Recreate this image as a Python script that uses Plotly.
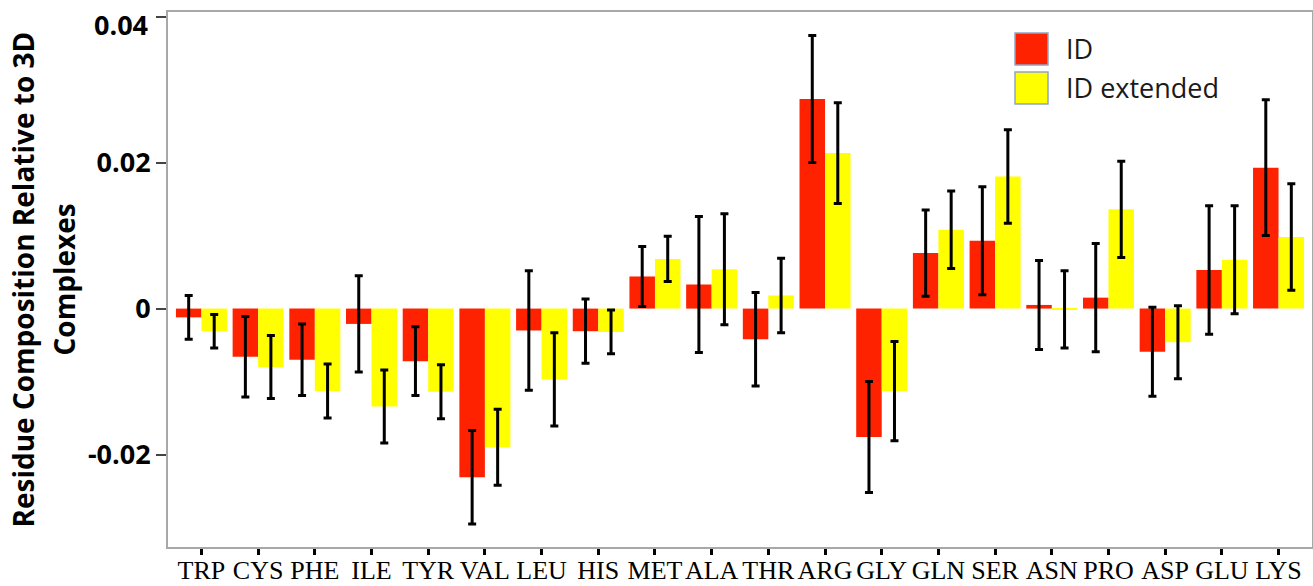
import plotly.graph_objects as go

# Residue categories along the x axis
residues = ["TRP", "CYS", "PHE", "ILE", "TYR", "VAL", "LEU", "HIS", "MET", "ALA",
            "THR", "ARG", "GLY", "GLN", "SER", "ASN", "PRO", "ASP", "GLU", "LYS"]

# Composition difference relative to 3D complexes: ID set
id_values = [-0.0012, -0.0066, -0.0070, -0.0021, -0.0072, -0.0231, -0.0030, -0.0031, 0.0044, 0.0033,
             -0.0042, 0.0287, -0.0176, 0.0076, 0.0093, 0.0005, 0.0015, -0.0059, 0.0053, 0.0193]
id_errors = [0.0030, 0.0055, 0.0049, 0.0066, 0.0047, 0.0064, 0.0082, 0.0044, 0.0041, 0.0093,
             0.0064, 0.0087, 0.0076, 0.0059, 0.0074, 0.0061, 0.0074, 0.0061, 0.0088, 0.0093]

# Composition difference relative to 3D complexes: ID extended set
ext_values = [-0.0031, -0.0080, -0.0113, -0.0134, -0.0114, -0.0190, -0.0097, -0.0032, 0.0068, 0.0054,
              0.0018, 0.0213, -0.0113, 0.0108, 0.0181, -0.0001, 0.0136, -0.0046, 0.0067, 0.0098]
ext_errors = [0.0023, 0.0043, 0.0037, 0.0050, 0.0037, 0.0052, 0.0064, 0.0030, 0.0031, 0.0076,
              0.0051, 0.0069, 0.0068, 0.0053, 0.0064, 0.0053, 0.0066, 0.0050, 0.0074, 0.0073]

# y ticks; the top label is placed by hand just below its tick so it stays on the page
y_tick_vals = [0.04, 0.02, 0, -0.02]
y_tick_text = ["0.04", "0.02", "0", "-0.02"]

series_names = ["ID", "ID extended"]
RED = "#ff2200"
YELLOW = "#ffff00"

err_style = dict(type="data", visible=True, color="black", thickness=3, width=4)

fig = go.Figure()
fig.add_trace(go.Bar(
    x=residues, y=id_values, name=series_names[0],
    marker=dict(color=RED, line=dict(width=0)),
    error_y=dict(array=id_errors, **err_style),
))
fig.add_trace(go.Bar(
    x=residues, y=ext_values, name=series_names[1],
    marker=dict(color=YELLOW, line=dict(width=0)),
    error_y=dict(array=ext_errors, **err_style),
))

# Plot area geometry (pixels) used for the hand-drawn legend and axis title
W, H = 1313, 586
L, R, T, B = 168, 1, 12, 39
pw, ph = W - L - R, H - T - B


def px_x(x):
    return (x - L) / pw


def px_y(y):
    return (H - B - y) / ph


legend_font = dict(family="Open Sans, sans-serif", size=27, color="#1a1a1a")
swatches = [(RED, 33, 65), (YELLOW, 72, 104)]
for (col, y0, y1), label in zip(swatches, series_names):
    fig.add_shape(type="rect", xref="paper", yref="paper",
                  x0=px_x(1015), x1=px_x(1048), y0=px_y(y1), y1=px_y(y0),
                  fillcolor=col, line=dict(color="#8ea6c4", width=1.5), layer="above")
    fig.add_annotation(xref="paper", yref="paper", x=px_x(1064), y=px_y((y0 + y1) / 2 - 1),
                       text=label, showarrow=False, xanchor="left", yanchor="middle",
                       font=legend_font)

# Two-line y axis title
title_font = dict(family="Open Sans, sans-serif", size=28, color="black", weight="bold")
for xc, line in [(22, "Residue Composition Relative to 3D"), (63, "Complexes")]:
    fig.add_annotation(xref="paper", yref="paper", x=px_x(xc), y=0.5,
                       text=line, showarrow=False, textangle=-90,
                       xanchor="center", yanchor="middle", font=title_font)

tick_font = dict(family="Open Sans, sans-serif", size=27, color="black", weight="bold")
fig.add_annotation(xref="paper", yref="paper", x=px_x(150), y=px_y(25),
                   text=y_tick_text[0], showarrow=False, xanchor="right", yanchor="middle",
                   font=tick_font)

fig.update_layout(
    width=W, height=H,
    margin=dict(l=L, r=R, t=T, b=B, pad=0, autoexpand=False),
    paper_bgcolor="white", plot_bgcolor="white",
    barmode="group", bargap=0.1, bargroupgap=0,
    showlegend=False,
)

fig.update_xaxes(
    range=[-0.59, 19.59],
    automargin=False, tickangle=0, ticklabelstandoff=-7,
    showline=True, linecolor="#a8a8a8", linewidth=2, mirror=True,
    ticks="outside", ticklen=6, tickwidth=3, tickcolor="black",
    tickfont=dict(family="Liberation Serif, Times New Roman, serif", size=26, color="black"),
    showgrid=False, zeroline=False,
)
fig.update_yaxes(
    range=[-0.03266, 0.04063],
    automargin=False,
    tickvals=y_tick_vals, ticktext=[""] + y_tick_text[1:],
    showline=True, linecolor="#a8a8a8", linewidth=2, mirror=True,
    ticks="outside", ticklen=10, tickwidth=2, tickcolor="#444444",
    tickfont=tick_font,
    showgrid=False, zeroline=False,
)

fig.write_html("out.html")
